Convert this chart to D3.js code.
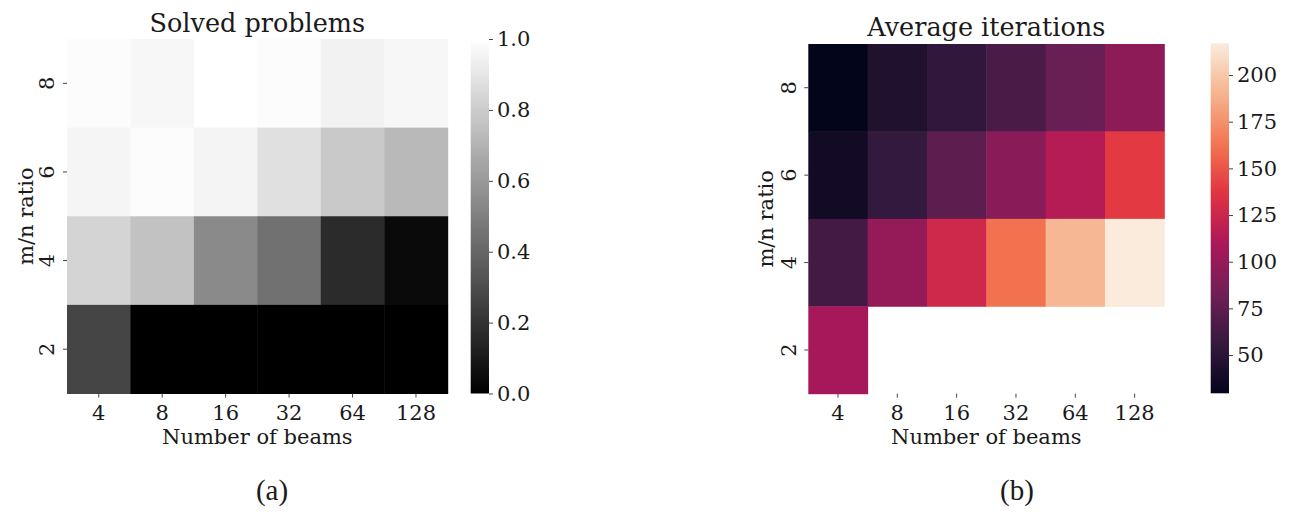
<!DOCTYPE html>
<html><head><meta charset="utf-8">
<script src="https://cdn.jsdelivr.net/npm/d3@7"></script>
<style>
body{margin:0;background:#fff;}
text{font-family:"DejaVu Serif",serif;fill:#1a1a1a;}
</style></head>
<body>
<svg id="chart" width="1292" height="512"></svg>
<script>
// ---- data ----
const beams = ["4","8","16","32","64","128"];
const ratios = ["8","6","4","2"];           // rows top to bottom
const solved = [
  [0.99, 0.97, 1.00, 0.99, 0.95, 0.97],
  [0.96, 0.99, 0.955, 0.88, 0.79, 0.725],
  [0.83, 0.76, 0.54, 0.445, 0.17, 0.04],
  [0.27, 0.00, 0.00, 0.00, 0.00, 0.00]
];
const iterations = [
  [29.5, 45, 54, 66, 80, 96],
  [38, 56, 75, 94, 114, 139],
  [62, 99, 127, 162, 192, 217],
  [107, null, null, null, null, null]
];
const solvedTicks = [0.0, 0.2, 0.4, 0.6, 0.8, 1.0];
const iterTicks = [50, 75, 100, 125, 150, 175, 200];
const rocketStops = ["#03051a","#35193e","#701f57","#ad1759","#e13342","#f37651","#f6b48f","#faebdd"];

const svg = d3.select("#chart");
const FS = 21;

function heatmap(opts){
  const g = svg.append("g");
  const x = d3.scaleBand().domain(beams).range([opts.x0, opts.x1]);
  const y = d3.scaleBand().domain(ratios).range([opts.y0, opts.y1]);
  const cells = [];
  opts.data.forEach((row,i)=>row.forEach((v,j)=>{ if(v!==null) cells.push({r:ratios[i], c:beams[j], v}); }));
  g.selectAll("rect.cell").data(cells).join("rect")
    .attr("x", d=>x(d.c)).attr("y", d=>y(d.r))
    .attr("width", x.bandwidth()+0.5).attr("height", y.bandwidth()+0.5)
    .attr("fill", d=>opts.color(d.v));
  // x axis
  const xa = g.append("g").attr("transform",`translate(0,${opts.y1})`)
    .call(d3.axisBottom(x).tickSize(4).tickPadding(3));
  xa.select(".domain").remove();
  xa.selectAll("line").attr("stroke","#444");
  xa.selectAll("text").attr("font-size",FS+"px").attr("dy",null).attr("y",26);
  // y axis
  const ya = g.append("g").attr("transform",`translate(${opts.x0},0)`)
    .call(d3.axisLeft(y).tickSize(4));
  ya.select(".domain").remove();
  ya.selectAll("line").attr("stroke","#444");
  ya.selectAll("text").attr("font-size",FS+"px").attr("x",null).attr("dy",null)
    .attr("text-anchor","middle")
    .attr("transform",`translate(${opts.ytickOff},0) rotate(-90)`);
  // labels
  g.append("text").attr("x",(opts.x0+opts.x1)/2).attr("y",opts.titleY)
    .attr("text-anchor","middle").attr("font-size","25.5px").text(opts.title);
  g.append("text").attr("x",(opts.x0+opts.x1)/2).attr("y",444)
    .attr("text-anchor","middle").attr("font-size",FS+"px").text("Number of beams");
  g.append("text").attr("transform",`translate(${opts.x0+opts.ylabOff},${(opts.y0+opts.y1)/2}) rotate(-90)`)
    .attr("text-anchor","middle").attr("font-size",FS+"px").text("m/n ratio");
  g.append("text").attr("x",opts.subX).attr("y",500)
    .attr("text-anchor","middle").attr("font-size","29px")
    .style("font-family","'Liberation Serif',serif").text(opts.sub);
  // colorbar
  const cb = opts.cb;
  const cs = d3.scaleLinear().domain(opts.color.domain()).range([cb.y1, cb.y0]);
  const gradId = "grad"+opts.sub.replace(/\W/g,"");
  const grad = svg.append("defs").append("linearGradient").attr("id",gradId)
    .attr("x1",0).attr("y1",1).attr("x2",0).attr("y2",0);
  const [d0,d1] = opts.color.domain();
  d3.range(0,1.0001,0.02).forEach(t=>{
    grad.append("stop").attr("offset",t).attr("stop-color",opts.color(d0+(d1-d0)*t));
  });
  g.append("rect").attr("x",cb.x0).attr("y",cb.y0).attr("width",cb.x1-cb.x0).attr("height",cb.y1-cb.y0)
    .attr("fill",`url(#${gradId})`);
  const ca = g.append("g").attr("transform",`translate(${cb.x1},0)`)
    .call(d3.axisRight(cs).tickValues(opts.ticks).tickFormat(opts.fmt).tickSize(4).tickPadding(4));
  ca.select(".domain").remove();
  ca.selectAll("line").attr("stroke","#444");
  ca.selectAll("text").attr("font-size",FS+"px");
}

const grayColor = d3.scaleLinear().domain([0,1]).range(["#000000","#ffffff"]).clamp(true);
const vmin = 29.5, vmax = 217;
const rocketColor = d3.scaleSequential(d3.piecewise(d3.interpolateRgb, rocketStops)).domain([vmin, vmax]);

heatmap({x0:67, x1:447.7, y0:39, y1:393.5, data:solved, color:grayColor,
  title:"Solved problems", titleY:32, sub:"(a)", subX:272, ytickOff:-13.5, ylabOff:-34,
  cb:{x0:470.7, x1:489, y0:39, y1:393.5}, ticks:solvedTicks, fmt:d3.format(".1f")});
heatmap({x0:808.3, x1:1164.3, y0:44, y1:393.7, data:iterations, color:rocketColor,
  title:"Average iterations", titleY:35.5, sub:"(b)", subX:1017, ytickOff:-12, ylabOff:-35,
  cb:{x0:1210.7, x1:1229, y0:43.3, y1:393.3}, ticks:iterTicks, fmt:d3.format("d")});
</script>
</body></html>
